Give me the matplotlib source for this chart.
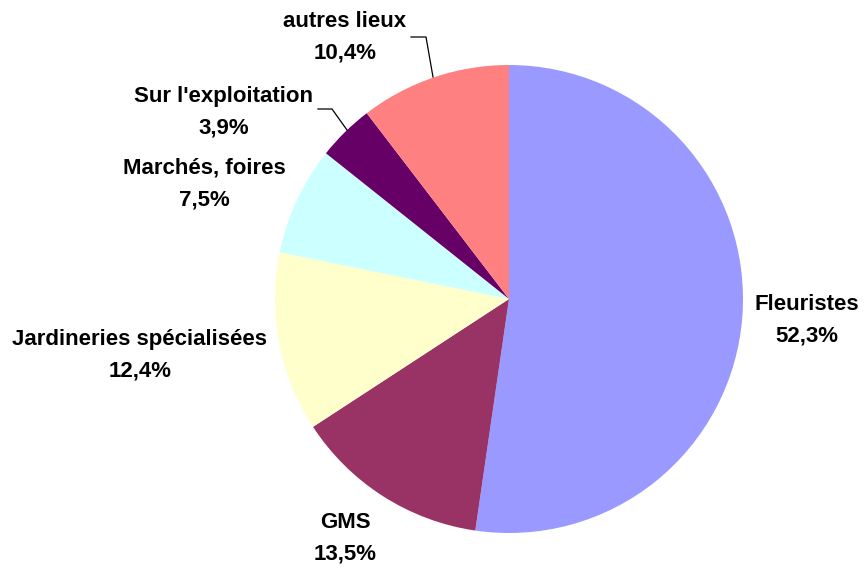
import matplotlib
matplotlib.use("Agg")
import matplotlib.pyplot as plt

categories = ["Fleuristes", "GMS", "Jardineries spécialisées", "Marchés, foires",
              "Sur l'exploitation", "autres lieux"]
values = [52.3, 13.5, 12.4, 7.5, 3.9, 10.4]
pct_labels = ["52,3%", "13,5%", "12,4%", "7,5%", "3,9%", "10,4%"]
colors = ["#9999FF", "#993366", "#FFFFCC", "#CCFFFF", "#660066", "#FF8080"]

W, H = 864, 567
fig = plt.figure(figsize=(W / 100, H / 100), dpi=100)
ax = fig.add_axes([0, 0, 1, 1])
ax.set_xlim(0, W)
ax.set_ylim(0, H)
ax.set_aspect("equal")
ax.axis("off")

cx, cy, r = 509, H - 299, 234
ax.pie(values, colors=colors, startangle=90, counterclock=False,
       center=(cx, cy), radius=r, frame=True,
       wedgeprops=dict(linewidth=0))
ax.set_xlim(0, W)
ax.set_ylim(0, H)
ax.axis("off")

# label positions (pixel coords, top-left origin)
label_pos = [(807, 320), (345, 538), (140, 355), (204, 184), (224, 112), (345, 37)]
for name, pct, (x, y) in zip(categories, pct_labels, label_pos):
    ax.text(x, H - y, f"{name}\n{pct}", ha="center", va="center",
            multialignment="center", fontsize=16, fontweight="bold",
            family="Liberation Sans", linespacing=1.65, color="black")

# leader lines
leaders = [
    [(411, 37), (426, 37), (433, 77)],
    [(318, 109), (332, 109), (347, 130)],
]
for pts in leaders:
    xs = [p[0] for p in pts]
    ys = [H - p[1] for p in pts]
    ax.plot(xs, ys, color="black", linewidth=0.9)

fig.savefig("out.png", dpi=100)
